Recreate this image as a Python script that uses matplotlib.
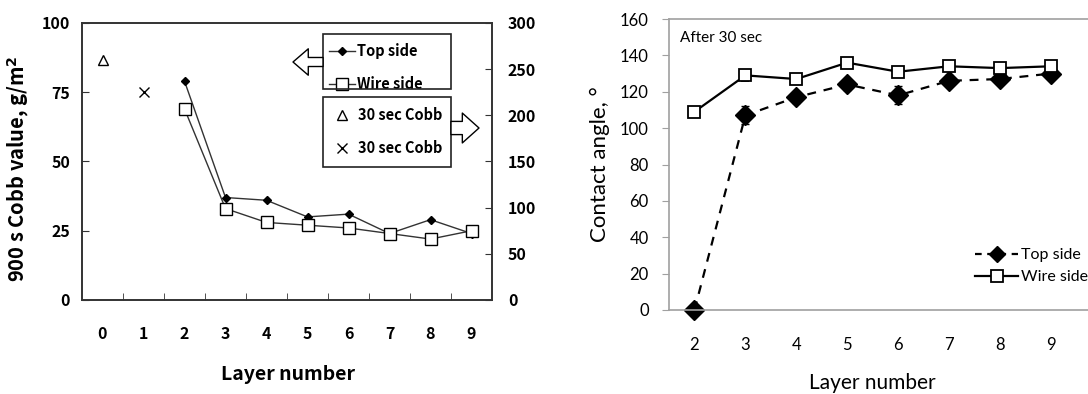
import matplotlib.pyplot as plt
from matplotlib.lines import Line2D
from matplotlib.patches import Rectangle
import numpy as np

# Cobb values (left panel)
layers_cobb = [2, 3, 4, 5, 6, 7, 8, 9]
cobb_top = [79, 37, 36, 30, 31, 24, 29, 24]
cobb_wire = [69, 33, 28, 27, 26, 24, 22, 25]
cobb30_tri_x, cobb30_tri_y = [0], [260]
cobb30_x_x, cobb30_x_y = [1], [225]
layer_labels = [str(i) for i in range(10)]

# contact angle after 30 sec (right panel)
layers_ca = [2, 3, 4, 5, 6, 7, 8, 9]
ca_top = [0, 107, 117, 124, 118, 126, 127, 130]
ca_top_err = [0, 5, 3, 3, 5, 3, 2, 2]
ca_wire = [109, 129, 127, 136, 131, 134, 133, 134]
ca_wire_err = [2, 3, 2, 2, 2, 2, 2, 2]

W, H = 1088, 394
fig = plt.figure(figsize=(W / 100, H / 100), dpi=100)

def fx(px):
    return px / W

def fy(py):
    return 1 - py / H

# ---------------- left panel ----------------
kr = "Noto Sans CJK KR"
bold = dict(family=kr, weight="bold")
ax1 = fig.add_axes([fx(82), fy(300), 410 / W, 277 / H])
ax2 = ax1.twinx()
for a in (ax1, ax2):
    for s in a.spines.values():
        s.set_color("#333333")
        s.set_linewidth(1.2)

ax1.plot(layers_cobb, cobb_top, color="#333333", lw=1, marker="D", ms=4.5,
         mfc="black", mec="black", label="Top side")
ax1.plot(layers_cobb, cobb_wire, color="#333333", lw=1, marker="s", ms=8,
         mfc="white", mec="black", mew=1, label="Wire side")
ax2.plot(cobb30_tri_x, cobb30_tri_y, ls="none", marker="^", ms=7, mfc="white",
         mec="black", mew=1, label="30 sec Cobb")
ax2.plot(cobb30_x_x, cobb30_x_y, ls="none", marker="x", ms=7, mec="black",
         mew=1, label="30 sec Cobb")

ax1.set_xlim(-0.5, 9.5)
ax1.set_ylim(0, 100)
ax2.set_ylim(0, 300)
ax1.set_yticks([0, 25, 50, 75, 100])
ax2.set_yticks(np.arange(0, 301, 50))
ax1.set_xticks(range(10))
ax1.set_xticklabels(layer_labels, **bold, fontsize=11.5)
ax1.set_xticks(np.arange(0.5, 9, 1), minor=True)
ax1.tick_params(axis="x", which="major", length=0, pad=19)
ax1.tick_params(axis="x", which="minor", direction="in", length=5, color="#333333")
ax1.tick_params(axis="y", direction="in", length=5, color="#333333", pad=8.5)
ax2.tick_params(axis="y", direction="in", length=5, color="#333333", pad=11.5)
for t in ax1.get_yticklabels() + ax2.get_yticklabels():
    t.set_family(kr)
    t.set_fontweight("bold")
    t.set_fontsize(11.5)

ax1.set_xlabel("Layer number", **bold, fontsize=14)
ax1.xaxis.set_label_coords(0.502, -0.235)
ax1.set_ylabel("900 s Cobb value, g/m$^\\mathbf{2}$", **bold, fontsize=14.5)
ax1.yaxis.set_label_coords(-0.125, 0.475)

legprops = dict(family=kr, weight="bold", size=10.5)
ax1.legend(loc="upper left", bbox_to_anchor=(fx(329), fy(43)), bbox_transform=fig.transFigure,
           frameon=False, handlelength=1.8, handletextpad=0.15, borderpad=0,
           borderaxespad=0, labelspacing=1.18, prop=legprops)
ax2.legend(loc="upper left", bbox_to_anchor=(fx(335), fy(107)), bbox_transform=fig.transFigure,
           frameon=False, handlelength=1.0, handletextpad=0.6, borderpad=0,
           borderaxespad=0, labelspacing=1.18, prop=legprops)

# legend boxes
for top, bottom in ((34, 89), (97, 167)):
    fig.add_artist(Rectangle((fx(323), fy(bottom)), (451 - 323) / W, (bottom - top) / H,
                             transform=fig.transFigure, fill=False, ec="#222222", lw=1.2))

# hollow arrows pointing to the matching axis
fig.add_artist(plt.Annotation(
    "", xy=(293, H - 62), xytext=(323, H - 62),
    xycoords="figure pixels", textcoords="figure pixels",
    arrowprops=dict(arrowstyle="simple,head_length=1.1,head_width=1.9,tail_width=0.65",
                    fc="white", ec="black", lw=1, shrinkA=0, shrinkB=0, mutation_scale=10)))
fig.add_artist(plt.Annotation(
    "", xy=(479, H - 128), xytext=(451, H - 128),
    xycoords="figure pixels", textcoords="figure pixels",
    arrowprops=dict(arrowstyle="simple,head_length=1.2,head_width=2.15,tail_width=0.95",
                    fc="white", ec="black", lw=1, shrinkA=0, shrinkB=0, mutation_scale=10)))

# ---------------- right panel ----------------
cal = "Lato"
ax3 = fig.add_axes([fx(669), fy(310), 1 - fx(669), 291 / H])
for s in ("left", "top", "bottom"):
    ax3.spines[s].set_color("#a0a0a0")
    ax3.spines[s].set_linewidth(1.2)
ax3.spines["right"].set_visible(False)

ax3.errorbar(layers_ca, ca_top, yerr=ca_top_err, color="black", lw=1.6,
             ls=(0, (4, 3.5)), marker="D", ms=10, mfc="black", mec="black",
             capsize=3, elinewidth=1, clip_on=False)
ax3.errorbar(layers_ca, ca_wire, yerr=ca_wire_err, color="black", lw=1.6,
             marker="s", ms=8.5, mfc="white", mec="black", mew=1.3,
             capsize=3, elinewidth=1, clip_on=False)

ax3.set_xlim(1.5, 9.73)
ax3.set_ylim(0, 160)
ax3.set_yticks(np.arange(0, 161, 20))
ax3.set_xticks(layers_ca)
ax3.tick_params(axis="x", length=0, pad=19.5, labelsize=12)
ax3.tick_params(axis="y", direction="out", length=5, color="#a0a0a0", pad=9.5, labelsize=12)
for t in ax3.get_xticklabels() + ax3.get_yticklabels():
    t.set_family(cal)
ax3.set_ylabel("Contact angle, °", family=cal, fontsize=16)
ax3.yaxis.set_label_coords(-0.141, 0.5)
ax3.set_xlabel("Layer number", family=cal, fontsize=15)
ax3.xaxis.set_label_coords((872 - 669) / (W - 669), -0.215)
ax3.text(fx(680), fy(38), "After 30 sec", transform=fig.transFigure, family=cal,
         fontsize=11, va="center", ha="left")

handles = [
    Line2D([], [], color="black", lw=1.6, ls=(0, (3, 2.5)), marker="D", ms=8, mfc="black"),
    Line2D([], [], color="black", lw=1.6, marker="s", ms=8, mfc="white", mew=1.3),
]
ax3.legend(handles, ["Top side", "Wire side"], loc="upper left",
           bbox_to_anchor=(fx(975), fy(248)), bbox_transform=fig.transFigure,
           frameon=False, handlelength=2.7, handletextpad=0.15, labelspacing=0.5,
           borderpad=0, borderaxespad=0, prop=dict(family=cal, size=11.5))

fig.savefig("out.png", dpi=100)
